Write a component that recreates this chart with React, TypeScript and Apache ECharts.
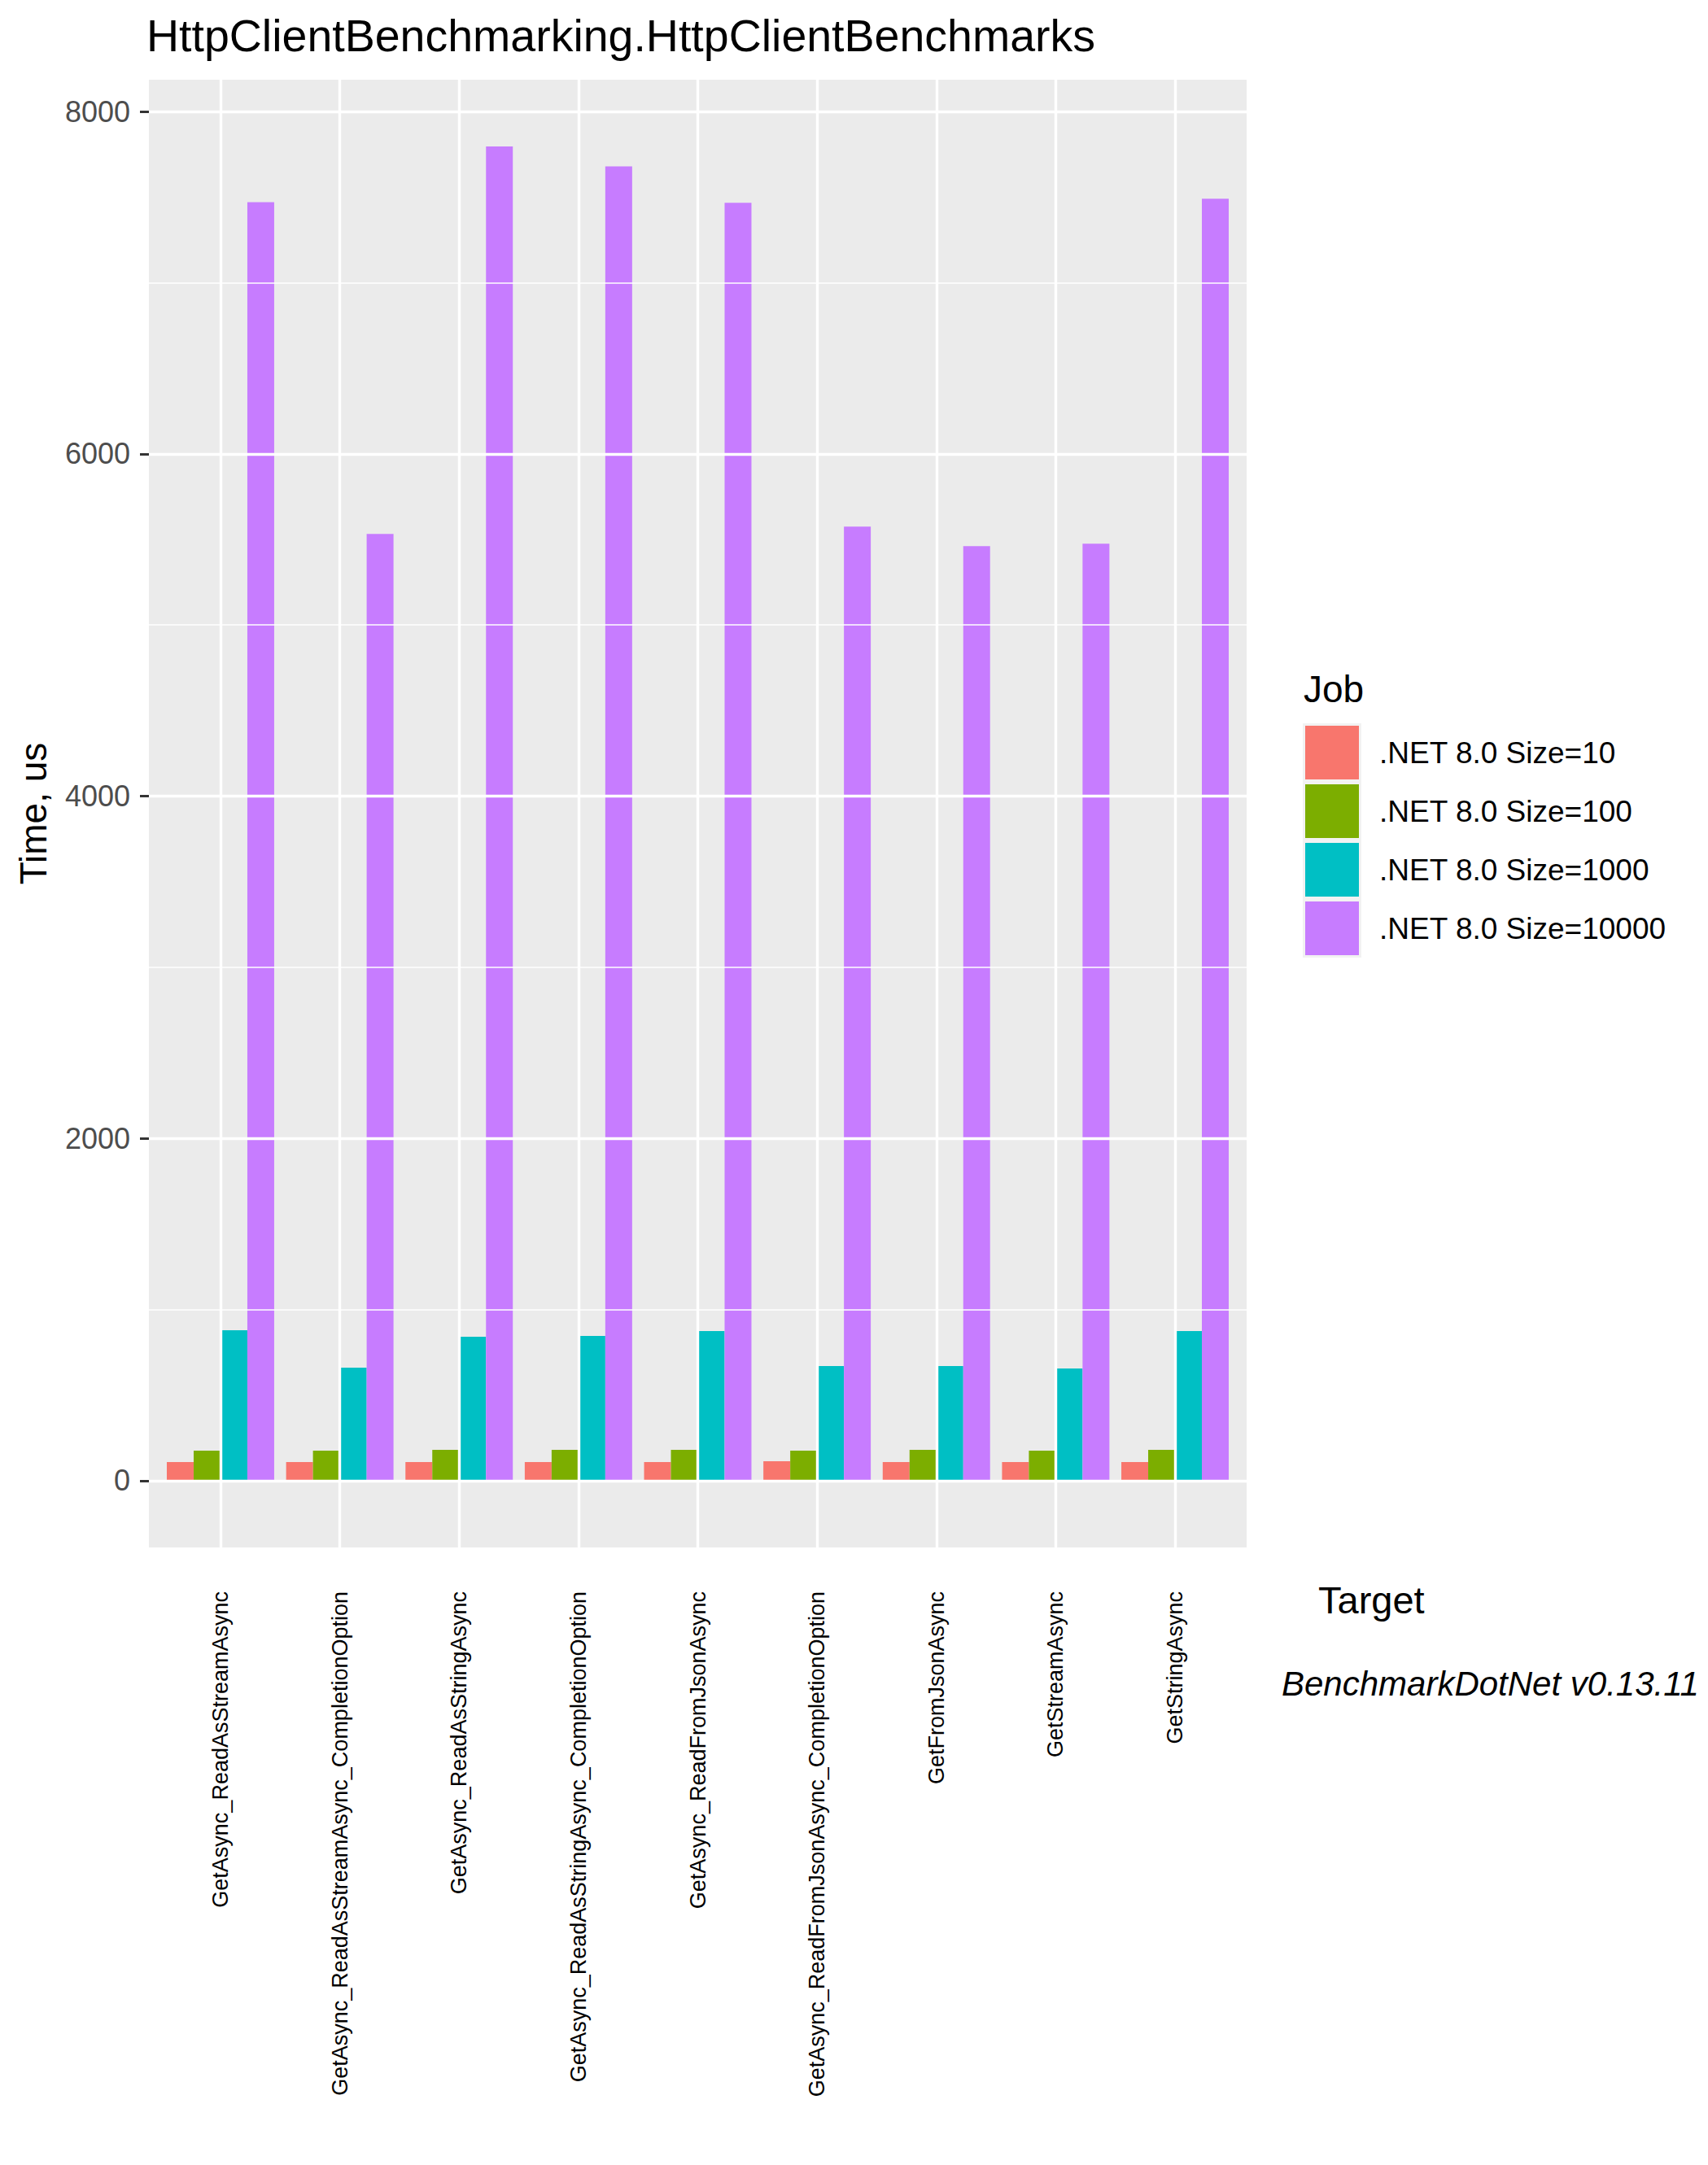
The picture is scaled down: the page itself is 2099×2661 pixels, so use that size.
import React, { useEffect, useRef } from "react";
import * as echarts from "echarts";

const FONT = "'Liberation Sans', Arial, sans-serif";

const categories = [
  "GetAsync_ReadAsStreamAsync",
  "GetAsync_ReadAsStreamAsync_CompletionOption",
  "GetAsync_ReadAsStringAsync",
  "GetAsync_ReadAsStringAsync_CompletionOption",
  "GetAsync_ReadFromJsonAsync",
  "GetAsync_ReadFromJsonAsync_CompletionOption",
  "GetFromJsonAsync",
  "GetStreamAsync",
  "GetStringAsync",
];

const seriesNames = [
  ".NET 8.0 Size=10",
  ".NET 8.0 Size=100",
  ".NET 8.0 Size=1000",
  ".NET 8.0 Size=10000",
];

const size10 = [109, 109, 109, 109, 109, 114, 109, 109, 109];
const size100 = [176, 176, 181, 181, 181, 176, 181, 176, 181];
const size1000 = [879, 661, 841, 846, 874, 670, 670, 656, 874];
const size10000 = [7471, 5532, 7796, 7680, 7467, 5575, 5461, 5475, 7491];

const seriesColors = ["#F8766D", "#7CAE00", "#00BFC4", "#C77CFF"];

const majorTicks = [0, 2000, 4000, 6000, 8000];
const minorTicks = [1000, 3000, 5000, 7000];

const Y_MIN = -390;
const Y_MAX = 8186;

export default function App() {
  const ref = useRef<HTMLDivElement>(null);

  useEffect(() => {
    if (!ref.current) return;
    const chart = echarts.init(ref.current, null, { renderer: "svg" });

    const panelLeft = 183;
    const panelTop = 98;
    const panelW = 1349;
    const panelH = 1804;
    const unit = panelW / 9.2;

    const allValues = [size10, size100, size1000, size10000];

    const option: any = {
      animation: false,
      backgroundColor: "#ffffff",
      textStyle: { fontFamily: FONT },
      title: {
        text: "HttpClientBenchmarking.HttpClientBenchmarks",
        left: 180,
        top: 16,
        padding: 0,
        textStyle: { fontSize: 55.5, fontWeight: "normal", color: "#000", fontFamily: FONT },
      },
      legend: {
        data: seriesNames,
        orient: "vertical",
        left: 1604,
        top: 892,
        padding: 0,
        itemWidth: 66,
        itemHeight: 66,
        itemGap: 6,
        icon: "rect",
        selectedMode: false,
        formatter: (name: string) => `{t|${name}}`,
        textStyle: {
          fontSize: 37,
          color: "#000",
          fontFamily: FONT,
          rich: {
            t: { fontSize: 37, color: "#000", fontFamily: FONT, padding: [0, 0, 0, 20] },
          },
        },
      },
      grid: [
        {
          left: panelLeft,
          top: panelTop,
          width: panelW,
          height: panelH,
          show: true,
          backgroundColor: "#EBEBEB",
          borderWidth: 0,
          containLabel: false,
        },
        {
          left: panelLeft + 0.1 * unit,
          top: panelTop,
          width: 9 * unit,
          height: panelH,
          show: false,
          containLabel: false,
        },
      ],
      xAxis: [
        { gridIndex: 0, type: "value", min: 0, max: 1, show: false },
        {
          gridIndex: 1,
          type: "category",
          data: categories,
          axisLine: { show: false },
          axisTick: {
            show: true,
            alignWithLabel: true,
            length: 11,
            lineStyle: { color: "#333333", width: 3 },
          },
          axisLabel: {
            interval: 0,
            rotate: 90,
            margin: 54,
            fontSize: 27,
            color: "#000",
            fontFamily: FONT,
          },
          splitLine: { show: false },
        },
      ],
      yAxis: [
        {
          gridIndex: 0,
          type: "value",
          min: Y_MIN,
          max: Y_MAX,
          axisLine: { show: false },
          axisTick: {
            show: true,
            length: 11,
            customValues: majorTicks,
            lineStyle: { color: "#333333", width: 3 },
          },
          axisLabel: {
            customValues: majorTicks,
            formatter: (v: number) => String(v),
            margin: 23,
            fontSize: 36,
            color: "#4D4D4D",
            fontFamily: FONT,
          },
          splitLine: { show: false },
        },
        { gridIndex: 1, type: "value", min: Y_MIN, max: Y_MAX, show: false },
      ],
      series: [
        {
          type: "line",
          name: "hgrid",
          xAxisIndex: 0,
          yAxisIndex: 0,
          data: [],
          z: 1,
          silent: true,
          markLine: {
            silent: true,
            symbol: "none",
            label: { show: false },
            lineStyle: { color: "#ffffff", type: "solid" },
            data: [
              ...minorTicks.map((v) => ({ yAxis: v, lineStyle: { width: 1.7, color: "#ffffff", type: "solid" } })),
              ...majorTicks.map((v) => ({ yAxis: v, lineStyle: { width: 3.4, color: "#ffffff", type: "solid" } })),
            ],
          },
        },
        {
          type: "line",
          name: "vgrid",
          xAxisIndex: 1,
          yAxisIndex: 1,
          data: [],
          z: 1,
          silent: true,
          markLine: {
            silent: true,
            symbol: "none",
            label: { show: false },
            lineStyle: { color: "#ffffff", type: "solid", width: 3.4 },
            data: categories.map((c) => ({ xAxis: c })),
          },
        },
        ...seriesNames.map((name, i) => ({
          type: "bar",
          name,
          xAxisIndex: 1,
          yAxisIndex: 1,
          data: allValues[i],
          z: 3,
          barGap: "0%",
          barCategoryGap: "10%",
          itemStyle: { color: seriesColors[i] },
        })),
      ],
      graphic: [
        {
          type: "rect",
          z: 0,
          shape: { x: 1601, y: 889, width: 72, height: 288 },
          style: { fill: "#F2F2F2" },
          silent: true,
        },
        {
          type: "text",
          x: 41,
          y: 1000,
          rotation: Math.PI / 2,
          style: {
            text: "Time, us",
            fontSize: 46,
            fontFamily: FONT,
            fill: "#000",
            align: "center",
            verticalAlign: "middle",
          },
        },
        {
          type: "text",
          x: 1602,
          y: 847,
          style: {
            text: "Job",
            fontSize: 46,
            fontFamily: FONT,
            fill: "#000",
            align: "left",
            verticalAlign: "middle",
          },
        },
        {
          type: "text",
          x: 1620,
          y: 1966,
          style: {
            text: "Target",
            fontSize: 47,
            fontFamily: FONT,
            fill: "#000",
            align: "left",
            verticalAlign: "middle",
          },
        },
        {
          type: "text",
          x: 1575,
          y: 2069,
          style: {
            text: "BenchmarkDotNet v0.13.11",
            fontSize: 42,
            fontStyle: "italic",
            fontFamily: FONT,
            fill: "#000",
            align: "left",
            verticalAlign: "middle",
          },
        },
      ],
    };

    chart.setOption(option);
    return () => {
      chart.dispose();
    };
  }, []);

  return (
    <div
      ref={ref}
      style={{ position: "absolute", left: 0, top: 0, width: 2099, height: 2661 }}
    />
  );
}
